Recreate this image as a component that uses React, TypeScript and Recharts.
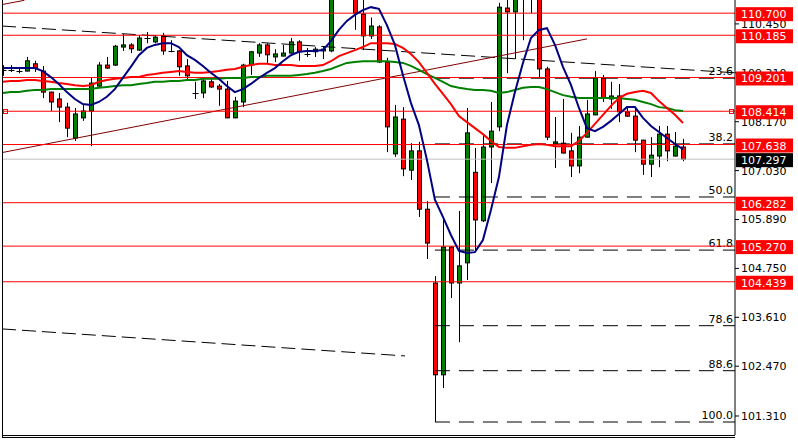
import { Bar, ComposedChart, Line, ReferenceLine, XAxis, YAxis } from 'recharts';

// candle data (oldest -> newest)
const opens = [
  109.38, 109.37, 109.36, 109.35, 109.52, 109.35, 108.86, 108.70, 108.51, 107.79,
  108.26, 108.42, 109.00, 109.49, 109.49, 109.91, 109.96, 109.84, 110.11, 110.03,
  110.17, 109.82, 109.82, 109.47, 108.84, 108.84, 109.10, 109.00, 108.93, 108.26,
  108.63, 109.49, 109.77, 109.96, 109.68, 109.70, 109.77, 110.03, 109.75, 109.80,
  109.82, 109.82, 111.25, 111.45, 111.40, 110.68, 110.17, 110.38, 109.56, 107.42,
  108.23, 107.04, 107.49, 106.13, 104.41, 102.27, 105.25, 104.41, 104.88, 106.99,
  105.86, 107.58, 108.05, 110.82, 110.73, 111.10, 111.30, 111.30, 109.40, 107.65,
  107.67, 107.49, 107.14, 107.81, 108.33, 109.19, 108.70, 108.77, 108.40, 108.30,
  107.74, 107.18, 107.37, 107.88, 107.37, 107.58,
];
const highs = [
  109.49, 109.49, 109.42, 109.68, 109.59, 109.47, 108.87, 108.84, 108.61, 108.49,
  108.58, 109.21, 109.56, 109.68, 109.96, 110.21, 110.00, 110.19, 110.26, 110.19,
  110.24, 110.07, 109.84, 109.63, 109.10, 109.19, 109.21, 109.05, 109.12, 108.75,
  109.52, 109.82, 110.00, 110.00, 109.86, 109.96, 110.12, 110.07, 109.89, 109.91,
  109.91, 111.35, 111.66, 111.60, 111.50, 111.10, 110.60, 110.42, 109.66, 108.56,
  108.51, 107.67, 107.70, 106.32, 104.57, 105.95, 105.27, 106.09, 108.49, 107.56,
  107.86, 108.63, 110.94, 111.10, 111.30, 111.50, 111.60, 111.40, 109.45, 108.28,
  108.70, 107.91, 108.07, 108.68, 109.35, 109.26, 109.10, 109.05, 108.49, 108.51,
  107.75, 107.81, 108.07, 108.07, 107.93, 107.77,
];
const lows = [
  109.24, 109.33, 109.30, 109.34, 109.33, 108.72, 108.42, 108.16, 107.81, 107.72,
  108.19, 107.60, 108.98, 109.40, 109.47, 109.82, 109.77, 109.82, 110.00, 110.00,
  109.73, 109.79, 109.24, 109.14, 108.70, 108.72, 108.96, 108.54, 108.25, 108.25,
  108.51, 109.26, 109.68, 109.52, 109.56, 109.69, 109.76, 109.59, 109.68, 109.68,
  109.63, 109.79, 111.05, 111.10, 110.31, 109.84, 110.10, 109.54, 107.46, 107.35,
  106.90, 106.81, 105.95, 104.97, 101.17, 101.96, 104.06, 103.03, 104.48, 105.16,
  105.83, 106.74, 107.95, 109.30, 109.63, 110.07, 110.70, 109.21, 107.74, 107.09,
  107.43, 106.88, 106.97, 107.80, 108.32, 108.63, 108.47, 108.16, 108.28, 107.46,
  106.93, 106.88, 107.11, 107.25, 107.36, 107.25,
];
const closes = [
  109.37, 109.38, 109.35, 109.59, 109.42, 108.86, 108.63, 108.51, 108.02, 108.35,
  108.42, 109.07, 109.49, 109.42, 109.93, 109.96, 109.87, 110.12, 110.12, 110.14,
  109.82, 109.81, 109.45, 109.24, 108.83, 109.12, 108.98, 108.93, 108.26, 108.65,
  109.49, 109.80, 109.96, 109.73, 109.75, 109.77, 110.03, 109.80, 109.75, 109.86,
  109.86, 111.25, 111.45, 111.30, 110.70, 110.17, 110.40, 109.56, 108.05, 108.28,
  107.07, 107.49, 106.13, 105.34, 102.27, 105.25, 104.41, 104.81, 107.91, 105.88,
  107.58, 107.95, 110.84, 110.73, 111.10, 111.30, 111.45, 109.40, 107.81, 107.70,
  107.44, 107.14, 107.81, 108.35, 109.19, 108.72, 108.77, 108.40, 108.30, 107.74,
  107.18, 107.39, 107.88, 107.49, 107.60, 107.297,
];

// moving averages
const maFast = [
  109.42, 109.42, 109.42, 109.42, 109.42, 109.35, 109.21, 109.05, 108.86, 108.70,
  108.58, 108.56, 108.63, 108.75, 108.93, 109.19, 109.45, 109.72, 109.89, 109.96,
  110.00, 110.00, 109.91, 109.72, 109.61, 109.47, 109.31, 109.17, 109.00, 108.86,
  108.93, 109.05, 109.19, 109.31, 109.42, 109.58, 109.72, 109.80, 109.82, 109.82,
  109.84, 110.05, 110.31, 110.52, 110.66, 110.77, 110.84, 110.80, 110.42, 109.96,
  109.26, 108.61, 108.09, 107.28, 106.35, 105.95, 105.53, 105.16, 105.11, 105.13,
  105.41, 106.11, 106.88, 108.09, 108.86, 109.54, 110.12, 110.31, 110.35, 109.96,
  109.45, 109.03, 108.49, 108.02, 107.95, 108.05, 108.19, 108.35, 108.51, 108.51,
  108.26, 108.07, 107.93, 107.79, 107.65, 107.53,
];
const maMid = [
  109.10, 109.12, 109.12, 109.14, 109.14, 109.12, 109.10, 109.07, 109.05, 109.02,
  109.00, 109.02, 109.10, 109.14, 109.17, 109.19, 109.21, 109.21, 109.26, 109.28,
  109.31, 109.33, 109.35, 109.33, 109.31, 109.31, 109.33, 109.35, 109.38, 109.40,
  109.45, 109.49, 109.52, 109.52, 109.49, 109.49, 109.49, 109.47, 109.47, 109.47,
  109.49, 109.58, 109.70, 109.77, 109.84, 109.91, 110.00, 110.00, 110.00, 109.98,
  109.89, 109.75, 109.56, 109.31, 109.05, 108.82, 108.58, 108.30, 108.16, 108.02,
  107.88, 107.72, 107.58, 107.56, 107.56, 107.60, 107.63, 107.65, 107.63, 107.60,
  107.60, 107.60, 107.72, 107.91, 108.12, 108.33, 108.54, 108.72, 108.82, 108.86,
  108.89, 108.84, 108.65, 108.49, 108.33, 108.14,
];
const maSlow = [
  108.84, 108.86, 108.86, 108.89, 108.91, 108.91, 108.93, 108.93, 108.93, 108.93,
  108.93, 108.93, 108.96, 108.98, 109.00, 109.02, 109.02, 109.05, 109.07, 109.10,
  109.10, 109.12, 109.12, 109.14, 109.14, 109.17, 109.17, 109.17, 109.19, 109.19,
  109.19, 109.21, 109.21, 109.24, 109.24, 109.24, 109.24, 109.26, 109.28, 109.31,
  109.35, 109.40, 109.47, 109.54, 109.56, 109.58, 109.58, 109.58, 109.58, 109.56,
  109.54, 109.47, 109.38, 109.28, 109.19, 109.10, 109.00, 108.96, 108.93, 108.91,
  108.91, 108.89, 108.84, 108.86, 108.91, 108.96, 108.98, 108.98, 108.93, 108.86,
  108.79, 108.75, 108.72, 108.72, 108.72, 108.72, 108.72, 108.72, 108.70, 108.68,
  108.63, 108.58, 108.51, 108.49, 108.44, 108.42,
];

const axisTicks = [110.45, 109.31, 108.17, 107.03, 105.89, 104.75, 103.61, 102.47, 101.31];
const priceLevels = [110.7, 110.185, 109.201, 108.414, 107.638, 106.282, 105.27, 104.439];
const lastPrice = 107.297;

// fibonacci retracement from the swing high to the swing low (candle 54)
const fibHigh = 111.66;
const fibLow = 101.17;
const fibStart = 54;
const fibPcts = [23.6, 38.2, 50.0, 61.8, 78.6, 88.6, 100.0];

// trend lines: [index, price] pairs
const channelLow = [[-0.1, 107.45], [73.0, 110.1]];
const channelHigh = [[-0.1, 110.9], [2.7, 111.0]];
const upperDashed = [[-0.1, 110.4], [91.5, 109.31]];
const lowerDashed = [[-0.1, 103.34], [50.26, 102.71]];

const xDomain = [-0.1, 91.5];
const yDomain = [100.867, 111.007];

const rows = opens.map((o, i) => ({
  i,
  open: o,
  high: highs[i],
  low: lows[i],
  close: closes[i],
  range: [lows[i], highs[i]],
  fast: maFast[i],
  mid: maMid[i],
  slow: maSlow[i],
}));

const Candle = (props: any) => {
  const { x, y, width, height, payload } = props;
  const { open, close, high, low } = payload;
  const top0 = Math.min(y, y + height);
  const h = Math.abs(height);
  const ratio = h / (high - low);
  const cx = Math.floor(x + width / 2) + 0.5;
  const yOf = (v: number) => top0 + (high - v) * ratio;
  const bTop = yOf(Math.max(open, close));
  const bBot = yOf(Math.min(open, close));
  const up = close >= open;
  const bodyH = bBot - bTop;
  return (
    <g>
      <line x1={cx} x2={cx} y1={top0} y2={top0 + h} stroke="#000" strokeWidth={1} />
      {bodyH < 1.5 ? (
        <line x1={cx - 3} x2={cx + 3} y1={Math.round(bTop) + 0.5} y2={Math.round(bTop) + 0.5} stroke="#000" />
      ) : (
        <rect x={cx - 2} y={bTop} width={4} height={bodyH} fill={up ? '#008000' : '#ff0000'} stroke="#000" strokeWidth={1} />
      )}
    </g>
  );
};

const tag = (value: number, bg: string) => (p: any) => {
  const vb = p.viewBox;
  const x0 = vb.x + vb.width + 1;
  return (
    <g>
      <rect x={x0} y={vb.y - 6} width={57} height={14} fill={bg} />
      <text x={x0 + 5} y={vb.y + 5} fill="#fff" fontSize={11}>{value.toFixed(3)}</text>
    </g>
  );
};

const fibLabel = (pct: number) => (p: any) => {
  const vb = p.viewBox;
  return (
    <text x={vb.x + vb.width - 2} y={vb.y - 3} textAnchor="end" fill="#000" fontSize={11}>
      {pct.toFixed(1)}
    </text>
  );
};

const seg = (pts: number[][]) => [{ x: pts[0][0], y: pts[0][1] }, { x: pts[1][0], y: pts[1][1] }];

export default function App() {
  return (
    <div style={{ position: 'absolute', left: 0, top: 0, width: 798, height: 440, background: '#fff', fontFamily: '"DejaVu Sans", sans-serif' }}>
      <ComposedChart width={798} height={440} data={rows} margin={{ top: 0, right: 0, left: 2, bottom: 5 }}>
        <XAxis type="number" dataKey="i" domain={xDomain} hide allowDataOverflow />
        <YAxis
          orientation="right"
          type="number"
          domain={yDomain}
          allowDataOverflow
          ticks={axisTicks}
          interval={0}
          width={63}
          tickSize={4}
          tickMargin={2}
          tickFormatter={(v: number) => v.toFixed(3)}
          tick={{ fill: '#000', fontSize: 11, textAnchor: 'start' }}
          axisLine={{ stroke: '#000' }}
          tickLine={{ stroke: '#000' }}
        />
        <ReferenceLine segment={seg(upperDashed)} stroke="#000" strokeDasharray="14 6" />
        <ReferenceLine segment={seg(lowerDashed)} stroke="#000" strokeDasharray="14 6" />
        <ReferenceLine segment={seg(channelLow)} stroke="#800000" />
        <ReferenceLine segment={seg(channelHigh)} stroke="#800000" />
        {fibPcts.map((pct) => {
          const lev = fibHigh - (pct / 100) * (fibHigh - fibLow);
          return (
            <ReferenceLine
              key={'f' + pct}
              segment={[{ x: fibStart, y: lev }, { x: 91.5, y: lev }]}
              stroke="#000"
              strokeDasharray="15 9"
              label={fibLabel(pct)}
            />
          );
        })}
        <ReferenceLine y={lastPrice} stroke="#c0c0c0" />
        {priceLevels.map((v) => (
          <ReferenceLine key={v} y={v} stroke="#ff0000" />
        ))}
        <Bar dataKey="range" barSize={7} shape={Candle} isAnimationActive={false} />
        <Line type="linear" dataKey="slow" stroke="#008000" strokeWidth={2} dot={false} isAnimationActive={false} />
        <Line type="linear" dataKey="mid" stroke="#ff0000" strokeWidth={2} dot={false} isAnimationActive={false} />
        <Line type="linear" dataKey="fast" stroke="#000080" strokeWidth={2} dot={false} isAnimationActive={false} />
      </ComposedChart>

      {/* price tags sit above the axis labels, as in the terminal */}
      <div style={{ position: 'absolute', left: 0, top: 0, pointerEvents: 'none' }}>
        <ComposedChart width={798} height={440} data={rows} margin={{ top: 0, right: 63, left: 2, bottom: 5 }}>
          <XAxis type="number" dataKey="i" domain={xDomain} hide allowDataOverflow />
          <YAxis type="number" domain={yDomain} hide allowDataOverflow />
          <ReferenceLine y={lastPrice} stroke="none" label={tag(lastPrice, '#000')} />
          {priceLevels.map((v) => (
            <ReferenceLine key={v} y={v} stroke="none" label={tag(v, '#ff0000')} />
          ))}
        </ComposedChart>
      </div>

      <div style={{ position: 'absolute', left: 2, top: 0, width: 1, height: 437, background: '#000' }} />
      <div style={{ position: 'absolute', left: 2, top: 435, width: 733, height: 1, background: '#000' }} />
      <div style={{ position: 'absolute', left: 2, top: 437, width: 733, height: 1, background: '#000' }} />
      <div style={{ position: 'absolute', left: 3, top: 109, width: 3, height: 3, border: '1px solid #ff0000' }} />
      <div style={{ position: 'absolute', left: 729, top: 109, width: 3, height: 3, border: '1px solid #ff0000' }} />
    </div>
  );
}
